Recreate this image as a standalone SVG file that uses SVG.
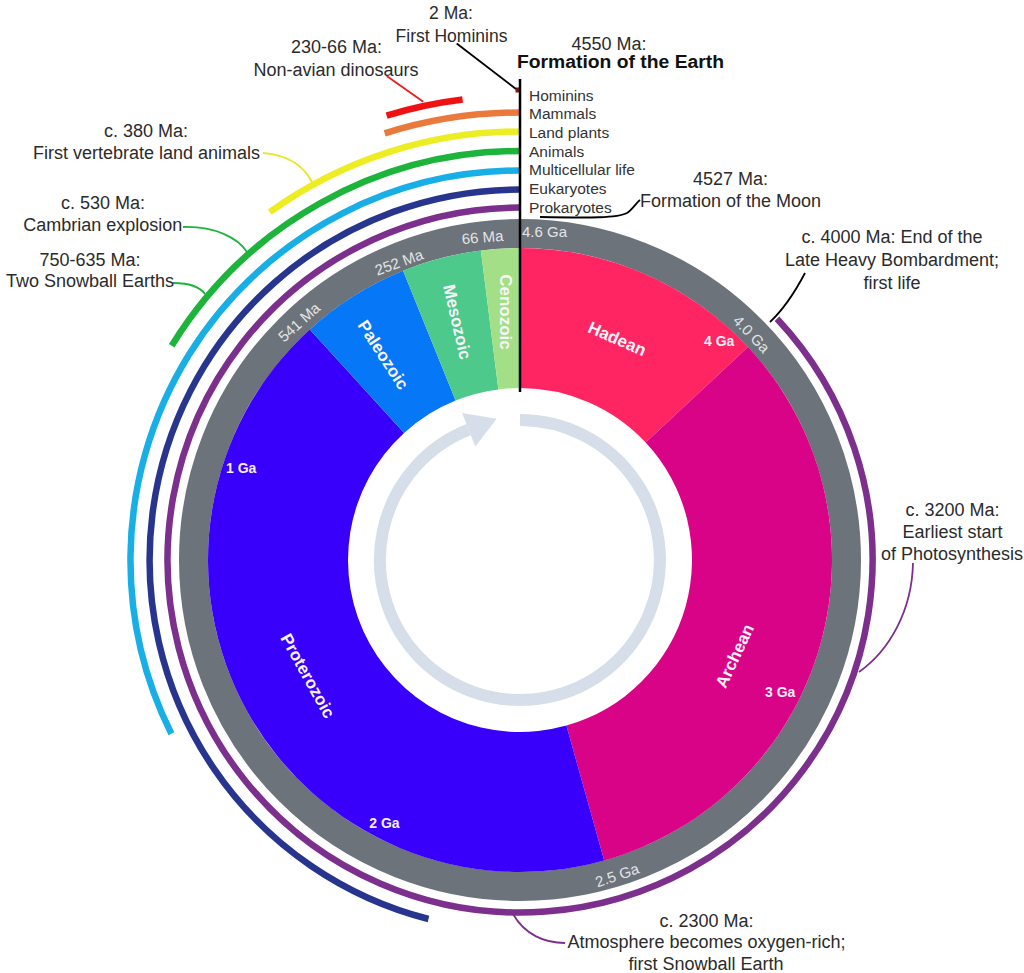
<svg xmlns="http://www.w3.org/2000/svg" width="1024" height="973" viewBox="0 0 1024 973">
<style>
.lbl{font-family:"Liberation Sans",Arial,sans-serif;font-size:18px;fill:#2b2b2b;text-anchor:middle}
.lst{font-family:"Liberation Sans",Arial,sans-serif;font-size:15.5px;fill:#333}
.ring{font-family:"Liberation Sans",Arial,sans-serif;font-size:15px;fill:#e4e4e4;text-anchor:middle;dominant-baseline:central}
.era{font-family:"Liberation Sans",Arial,sans-serif;font-size:17px;font-weight:bold;fill:#f8f4f8;text-anchor:middle;dominant-baseline:central}
.ga{font-family:"Liberation Sans",Arial,sans-serif;font-size:14px;font-weight:bold;fill:#f4eef4}
.arc{fill:none;stroke-width:6.5;stroke-linecap:butt}
.con{fill:none;stroke-width:1.8}
</style>
<rect width="1024" height="973" fill="#fff"/>
<g id="ring">
<circle cx="520" cy="560" r="326.5" fill="none" stroke="#6d737b" stroke-width="29"/>
</g>
<g id="eras">
<path id="hadean" d="M520,248 A312,312 0 0 1 748.0,347.0 L645.7,442.6 A172,172 0 0 0 520,388 Z" fill="#ff2462"/>
<path id="archean" d="M748.0,347.0 A312,312 0 0 1 604.2,860.4 L566.4,725.6 A172,172 0 0 0 645.7,442.6 Z" fill="#d90388"/>
<path id="proterozoic" d="M604.2,860.4 A312,312 0 0 1 309.8,329.4 L404.1,432.9 A172,172 0 0 0 566.4,725.6 Z" fill="#3800fb"/>
<path id="paleozoic" d="M309.8,329.4 A312,312 0 0 1 403.1,270.7 L455.6,400.5 A172,172 0 0 0 404.1,432.9 Z" fill="#0677f6"/>
<path id="mesozoic" d="M403.1,270.7 A312,312 0 0 1 480.9,250.5 L498.4,389.4 A172,172 0 0 0 455.6,400.5 Z" fill="#4cc98b"/>
<path id="cenozoic" d="M480.9,250.5 A312,312 0 0 1 520,248 L520,388 A172,172 0 0 0 498.4,389.4 Z" fill="#a2df86"/>
</g>
<g id="era-labels">
<text class="era" transform="translate(617,339) rotate(23.5)">Hadean</text>
<text class="era" transform="translate(735,656) rotate(-65)">Archean</text>
<text class="era" transform="translate(307.5,676) rotate(61)">Proterozoic</text>
<text class="era" transform="translate(383,355) rotate(57)">Paleozoic</text>
<text class="era" transform="translate(457,322) rotate(77)">Mesozoic</text>
<text class="era" transform="translate(505,312) rotate(90)">Cenozoic</text>
<text class="ga" x="704" y="346">4 Ga</text>
<text class="ga" x="765" y="696.7">3 Ga</text>
<text class="ga" x="369.3" y="827.7">2 Ga</text>
<text class="ga" x="226" y="472.7">1 Ga</text>
</g>
<g id="ring-labels">
<text class="ring" x="522" y="237.3" style="text-anchor:start;dominant-baseline:auto">4.6 Ga</text>
<text class="ring" transform="translate(482.5,237) rotate(-5)">66 Ma</text>
<text class="ring" transform="translate(399,262) rotate(-20)">252 Ma</text>
<text class="ring" transform="translate(299,322) rotate(-42)">541 Ma</text>
<text class="ring" transform="translate(751.7,334) rotate(46)">4.0 Ga</text>
<text class="ring" transform="translate(617,875) rotate(-19)">2.5 Ga</text>
</g>
<g id="cycle-arrow">
<path d="M520,420 A140,140 0 1 1 468.7,429.7" fill="none" stroke="#d6dee9" stroke-width="12"/>
<polygon points="462.1,413 496.6,418.7 475.3,446.4" fill="#d6dee9"/>
</g>
<g id="life-arcs">
<path id="prokaryotes" class="arc" d="M777.0,318.7 A352.5,352.5 0 1 1 520,207.5" stroke="#7c2f8c"/>
<path id="eukaryotes" class="arc" d="M428.5,919.0 A370.5,370.5 0 0 1 520,189.5" stroke="#27358f"/>
<path id="multicellular" class="arc" d="M171.4,733.8 A389.5,389.5 0 0 1 520,170.5" stroke="#18aee6"/>
<path id="animals" class="arc" d="M171.7,345.7 A409,409 0 0 1 520,151" stroke="#1cb43b"/>
<path id="landplants" class="arc" d="M269.7,212.2 A428.5,428.5 0 0 1 520,131.5" stroke="#eded24"/>
<path id="mammals" class="arc" d="M384.7,133.4 A447.5,447.5 0 0 1 520,112.5" stroke="#ea7a3c"/>
<path id="dinosaurs" class="arc" d="M386.6,115.6 A464,464 0 0 1 462.6,99.6" stroke="#f01212" stroke-width="8"/>
<path id="hominins" d="M515.5,90 L519.5,90" stroke="#7a1a1a" stroke-width="5"/>
</g>
<g id="connectors">
<line x1="520" y1="79" x2="520" y2="392" stroke="#000" stroke-width="2.5"/>
<line class="con" x1="456.7" y1="43.5" x2="516" y2="89" stroke="#000"/>
<line class="con" x1="386.7" y1="76" x2="423.3" y2="101.7" stroke="#ee1c1c"/>
<path class="con" d="M540,217 C590,218 618,218 627,213 C633,209 636,203 640,200" stroke="#000"/>
<path class="con" d="M805,273 C795,292 785,308 770,322" stroke="#000"/>
<path class="con" d="M913,563 C912,610 890,650 859,672" stroke="#7c2f8c"/>
<path class="con" d="M513,914 C525,935 545,943 565,943" stroke="#7c2f8c"/>
<path class="con" d="M263,153 C290,155 305,168 312,182" stroke="#e6e62a"/>
<path class="con" d="M183,227 C215,226 238,238 247,252" stroke="#1cb43b"/>
<path class="con" d="M173,283 C190,283 200,287 205,294" stroke="#1cb43b"/>
</g>
<g id="list-labels">
<text class="lst" x="529" y="100.7">Hominins</text>
<text class="lst" x="529" y="119.3">Mammals</text>
<text class="lst" x="529" y="138">Land plants</text>
<text class="lst" x="529" y="156.6">Animals</text>
<text class="lst" x="529" y="175.3">Multicellular life</text>
<text class="lst" x="529" y="194">Eukaryotes</text>
<text class="lst" x="529" y="212.7">Prokaryotes</text>
</g>
<g id="events">
<g id="ev-hominins"><text class="lbl" x="451" y="19" style="font-size:17.5px">2 Ma:</text><text class="lbl" x="451.5" y="41.7" style="font-size:17.5px">First Hominins</text></g>
<g id="ev-dinosaurs"><text class="lbl" x="336.5" y="53">230-66 Ma:</text><text class="lbl" x="336" y="75.5">Non-avian dinosaurs</text></g>
<g id="ev-earth"><text class="lbl" x="609" y="50">4550 Ma:</text><text class="lbl" x="517" y="68.3" style="text-anchor:start;font-weight:bold;fill:#111" textLength="207" lengthAdjust="spacingAndGlyphs">Formation of the Earth</text></g>
<g id="ev-moon"><text class="lbl" x="730.5" y="185">4527 Ma:</text><text class="lbl" x="730.5" y="206.7">Formation of the Moon</text></g>
<g id="ev-lhb"><text class="lbl" x="892" y="243.3">c. 4000 Ma: End of the</text><text class="lbl" x="892" y="266">Late Heavy Bombardment;</text><text class="lbl" x="892" y="288.5">first life</text></g>
<g id="ev-photo"><text class="lbl" x="952.5" y="516">c. 3200 Ma:</text><text class="lbl" x="952.5" y="538.3">Earliest start</text><text class="lbl" x="952" y="560">of Photosynthesis</text></g>
<g id="ev-oxygen"><text class="lbl" x="706.5" y="926.7">c. 2300 Ma:</text><text class="lbl" x="706.5" y="948.3">Atmosphere becomes oxygen-rich;</text><text class="lbl" x="706" y="970">first Snowball Earth</text></g>
<g id="ev-landanimals"><text class="lbl" x="146" y="136.7">c. 380 Ma:</text><text class="lbl" x="146.5" y="159.3">First vertebrate land animals</text></g>
<g id="ev-cambrian"><text class="lbl" x="103" y="209.3">c. 530 Ma:</text><text class="lbl" x="102.7" y="231">Cambrian explosion</text></g>
<g id="ev-snowball"><text class="lbl" x="90" y="265.7">750-635 Ma:</text><text class="lbl" x="90" y="286.7">Two Snowball Earths</text></g>
</g>
</svg>
